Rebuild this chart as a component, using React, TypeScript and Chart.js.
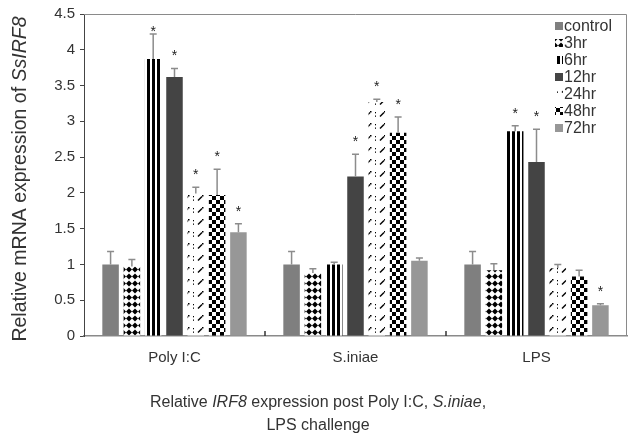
import React, { useEffect, useRef } from "react";
import { Chart, registerables } from "chart.js";

Chart.register(...registerables);

const categories = ["Poly I:C", "S.iniae", "LPS"];
const seriesNames = ["control", "3hr", "6hr", "12hr", "24hr", "48hr", "72hr"];

const controlMean = [1.0, 1.0, 1.0];
const hr3Mean = [0.97, 0.88, 0.92];
const hr6Mean = [3.87, 1.0, 2.86];
const hr12Mean = [3.62, 2.23, 2.43];
const hr24Mean = [1.99, 3.27, 0.95];
const hr48Mean = [1.97, 2.84, 0.83];
const hr72Mean = [1.45, 1.05, 0.43];

const controlErr = [0.18, 0.18, 0.18];
const hr3Err = [0.1, 0.06, 0.09];
const hr6Err = [0.35, 0.03, 0.08];
const hr12Err = [0.12, 0.31, 0.46];
const hr24Err = [0.09, 0.04, 0.05];
const hr48Err = [0.36, 0.22, 0.09];
const hr72Err = [0.12, 0.04, 0.02];

const controlSig = [false, false, false];
const hr3Sig = [false, false, false];
const hr6Sig = [true, false, true];
const hr12Sig = [true, true, true];
const hr24Sig = [true, true, false];
const hr48Sig = [true, true, false];
const hr72Sig = [true, false, true];

const yMin = 0;
const yMax = 4.5;
const yStep = 0.5;

const yTitle = [
  { text: "Relative mRNA expression of ", italic: false },
  { text: "SsIRF8", italic: true },
];
const xTitleLine1 = [
  { text: "Relative ", italic: false },
  { text: "IRF8", italic: true },
  { text: " expression post Poly I:C, ", italic: false },
  { text: "S.iniae", italic: true },
  { text: ",", italic: false },
];
const xTitleLine2 = [{ text: "LPS challenge", italic: false }];

const means = [controlMean, hr3Mean, hr6Mean, hr12Mean, hr24Mean, hr48Mean, hr72Mean];
const errs = [controlErr, hr3Err, hr6Err, hr12Err, hr24Err, hr48Err, hr72Err];
const sigs = [controlSig, hr3Sig, hr6Sig, hr12Sig, hr24Sig, hr48Sig, hr72Sig];

const FAMILY = "'Liberation Sans', Arial, Helvetica, sans-serif";

function makePattern(
  target: CanvasRenderingContext2D,
  w: number,
  h: number,
  draw: (c: CanvasRenderingContext2D) => void
) {
  const c = document.createElement("canvas");
  c.width = w;
  c.height = h;
  const cx = c.getContext("2d")!;
  cx.fillStyle = "#ffffff";
  cx.fillRect(0, 0, w, h);
  cx.fillStyle = "#000000";
  cx.strokeStyle = "#000000";
  draw(cx);
  return target.createPattern(c, "repeat")!;
}

function drawMixed(
  ctx: CanvasRenderingContext2D,
  segs: { text: string; italic: boolean }[],
  cx: number,
  y: number,
  size: number
) {
  const fonts = segs.map((s) => `${s.italic ? "italic " : ""}${size}px ${FAMILY}`);
  let total = 0;
  const widths = segs.map((s, i) => {
    ctx.font = fonts[i];
    const w = ctx.measureText(s.text).width;
    total += w;
    return w;
  });
  let x = cx - total / 2;
  ctx.textAlign = "left";
  ctx.textBaseline = "alphabetic";
  segs.forEach((s, i) => {
    ctx.font = fonts[i];
    ctx.fillText(s.text, x, y);
    x += widths[i];
  });
}

export default function App() {
  const ref = useRef<HTMLCanvasElement | null>(null);

  useEffect(() => {
    document.body.style.margin = "0";
    const canvas = ref.current!;
    const ctx = canvas.getContext("2d")!;

    const fills: (string | CanvasPattern)[] = [
      "#7f7f7f",
      makePattern(ctx, 6, 7, (c) => {
        c.beginPath();
        c.moveTo(3, 0.5);
        c.lineTo(6, 3.5);
        c.lineTo(3, 6.5);
        c.lineTo(0, 3.5);
        c.closePath();
        c.fill();
      }),
      makePattern(ctx, 5, 2, (c) => {
        c.fillRect(2, 0, 3, 2);
      }),
      "#444444",
      makePattern(ctx, 14, 12, (c) => {
        c.lineWidth = 1.4;
        c.beginPath();
        c.moveTo(2, 8.5);
        c.lineTo(6, 4.5);
        c.stroke();
        c.fillRect(6, 3, 1.5, 1.5);
        c.fillRect(11, 4, 1, 1.3);
        c.fillRect(11, 7.5, 1, 1.3);
      }),
      makePattern(ctx, 8, 8, (c) => {
        c.fillRect(0, 0, 4, 4);
        c.fillRect(4, 4, 4, 4);
      }),
      "#979797",
    ];

    const overlay = {
      id: "overlay",
      afterDatasetsDraw(chart: any) {
        const c: CanvasRenderingContext2D = chart.ctx;
        const area = chart.chartArea;
        const ys = chart.scales.y;
        const xs = chart.scales.x;
        c.save();
        // frame top/right
        c.strokeStyle = "#8a8a8a";
        c.lineWidth = 1;
        c.beginPath();
        c.moveTo(area.left, area.top + 0.5);
        c.lineTo(area.right - 0.5, area.top + 0.5);
        c.lineTo(area.right - 0.5, area.bottom);
        c.stroke();

        // error bars and asterisks
        chart.data.datasets.forEach((ds: any, i: number) => {
          const meta = chart.getDatasetMeta(i);
          meta.data.forEach((el: any, j: number) => {
            const top = ys.getPixelForValue(means[i][j] + errs[i][j]);
            c.strokeStyle = "#8c8c8c";
            c.lineWidth = 1.5;
            c.beginPath();
            c.moveTo(el.x, el.y);
            c.lineTo(el.x, top);
            c.moveTo(el.x - 3.5, top);
            c.lineTo(el.x + 3.5, top);
            c.stroke();
            if (sigs[i][j]) {
              c.fillStyle = "#222222";
              c.font = `14px ${FAMILY}`;
              c.textAlign = "center";
              c.textBaseline = "alphabetic";
              const by = Math.max(top - 8, area.top + 22);
              c.fillText("*", el.x, by);
            }
          });
        });

        // category separator ticks (inward)
        c.strokeStyle = "#333333";
        c.lineWidth = 1.5;
        for (let k = 1; k < categories.length; k++) {
          const bx = (xs.getPixelForValue(k - 1) + xs.getPixelForValue(k)) / 2;
          c.beginPath();
          c.moveTo(bx, area.bottom);
          c.lineTo(bx, area.bottom - 5);
          c.stroke();
        }

        // legend
        const lx = area.right - 72;
        seriesNames.forEach((name, i) => {
          const cy = area.top + 12 + i * 17;
          c.fillStyle = fills[i] as any;
          c.fillRect(lx, cy - 4, 8, 8);
          c.fillStyle = "#333333";
          c.font = `16px ${FAMILY}`;
          c.textAlign = "left";
          c.textBaseline = "middle";
          c.fillText(name, lx + 9, cy + 1);
        });

        // titles
        c.fillStyle = "#333333";
        drawMixed(c, xTitleLine1, 318, 407, 16);
        drawMixed(c, xTitleLine2, 318, 430, 16);
        c.translate(19, (area.top + area.bottom) / 2 + 4);
        c.rotate(-Math.PI / 2);
        drawMixed(c, yTitle, 0, 7, 19.5);
        c.restore();
      },
    };

    const chart = new Chart(canvas, {
      type: "bar",
      data: {
        labels: categories,
        datasets: seriesNames.map((name, i) => ({
          label: name,
          data: means[i],
          backgroundColor: fills[i] as any,
          borderWidth: 0,
          categoryPercentage: 0.824,
          barPercentage: 0.775,
        })),
      },
      options: {
        animation: false,
        responsive: false,
        devicePixelRatio: 1,
        layout: { padding: { top: 14, right: 6, left: 0, bottom: 0 } },
        plugins: { legend: { display: false }, tooltip: { enabled: false } },
        scales: {
          x: {
            grid: { display: false },
            border: { display: true, color: "#8a8a8a", width: 1.5 },
            ticks: { font: { family: FAMILY, size: 15 }, color: "#333333", padding: 5 },
            afterFit: (s: any) => {
              s.height = 100;
            },
          },
          y: {
            min: yMin,
            max: yMax,
            ticks: {
              stepSize: yStep,
              font: { family: FAMILY, size: 15 },
              color: "#333333",
              padding: 5,
              callback: (v: any) => String(Number(v)),
            },
            grid: { display: true, drawOnChartArea: false, drawTicks: true, tickLength: 4, color: "#444444" },
            border: { display: true, color: "#444444", width: 1 },
            afterFit: (s: any) => {
              s.width = 84;
            },
          },
        },
      },
      plugins: [overlay],
    });
    return () => chart.destroy();
  }, []);

  return <canvas ref={ref} width={633} height={436} style={{ display: "block" }} />;
}
